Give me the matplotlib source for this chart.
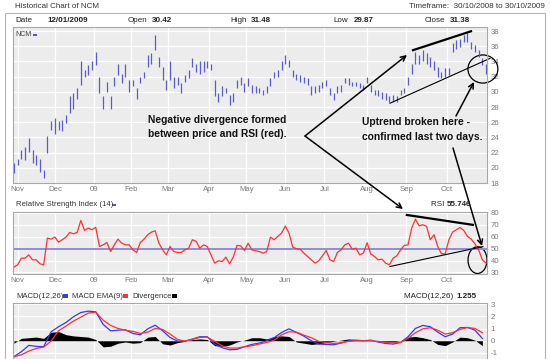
import numpy as np
import pandas as pd
import matplotlib
matplotlib.use('Agg')
import matplotlib.pyplot as plt
from matplotlib.patches import Ellipse, Rectangle, FancyArrowPatch

plt.rcParams['axes.unicode_minus'] = False

# ASX trading calendar 30/10/2008 - 30/10/2009
holidays = ['2008-12-25', '2008-12-26', '2009-01-01', '2009-01-26',
            '2009-04-10', '2009-04-13', '2009-06-08']
days = pd.bdate_range('2008-10-30', '2009-10-30', freq='C', holidays=holidays)
n = len(days)

month_labels = ['Nov', 'Dec', '09', 'Feb', 'Mar', 'Apr', 'May', 'Jun',
                'Jul', 'Aug', 'Sep', 'Oct']

# NCM daily bars, read every second trading day (low / high)
price_low = [19.3, 20.4, 21.2, 21.0, 22.1, 20.6, 20.4, 19.5, 18.6, 22.0,
             25.0, 24.5, 25.0, 24.8, 25.9, 27.2, 27.8, 29.1, 30.9, 32.0,
             32.2, 32.9, 33.5, 29.8, 27.8, 30.0, 27.8, 30.7, 32.2, 31.1,
             32.0, 30.0, 30.7, 29.1, 31.1, 31.8, 33.3, 33.7, 35.5, 33.3,
             31.6, 30.2, 31.6, 30.5, 30.9, 29.8, 31.3, 31.8, 33.3, 32.6,
             32.4, 32.6, 33.1, 32.9, 29.4, 28.7, 29.4, 29.8, 28.3, 28.7,
             30.5, 30.9, 30.0, 30.7, 29.8, 29.8, 29.8, 29.6, 29.8, 30.7,
             31.8, 32.0, 32.9, 33.7, 33.3, 32.0, 31.6, 31.3, 31.1, 30.9,
             29.6, 29.8, 30.0, 30.5, 30.7, 29.6, 28.9, 29.8, 30.0, 31.1,
             30.9, 30.7, 30.7, 30.5, 30.2, 31.1, 30.0, 29.6, 29.4, 29.1,
             28.9, 28.7, 28.7, 28.7, 29.6, 29.8, 30.9, 32.4, 33.7, 33.7,
             34.0, 33.7, 33.3, 32.9, 32.0, 31.8, 32.0, 32.2, 35.3, 35.7,
             35.9, 36.6, 36.6, 35.7, 35.3, 34.6, 33.5, 32.4]
price_high = [20.6, 21.2, 22.3, 22.8, 23.9, 22.3, 21.7, 21.2, 19.7, 24.2,
              26.1, 26.5, 26.1, 26.3, 27.0, 29.4, 29.8, 30.5, 34.0, 32.9,
              33.5, 34.0, 35.3, 32.0, 29.4, 31.3, 29.4, 32.0, 33.7, 32.4,
              33.7, 31.6, 31.6, 30.5, 32.0, 32.6, 34.8, 35.1, 37.5, 34.6,
              33.3, 31.6, 34.0, 32.0, 32.0, 31.1, 32.2, 32.9, 34.4, 33.7,
              34.0, 34.0, 34.0, 33.7, 31.6, 29.8, 30.7, 30.5, 29.6, 29.8,
              31.6, 32.0, 31.1, 31.8, 30.9, 30.7, 30.5, 30.2, 30.7, 31.8,
              32.6, 32.9, 34.0, 34.8, 34.2, 32.9, 32.4, 32.2, 32.0, 31.8,
              30.7, 30.7, 30.9, 31.3, 31.6, 30.5, 29.8, 30.7, 30.9, 31.8,
              31.8, 31.3, 31.3, 31.1, 30.9, 32.0, 30.9, 30.2, 30.2, 30.0,
              29.8, 29.4, 29.6, 29.4, 30.2, 30.5, 32.0, 33.7, 35.3, 34.8,
              35.5, 35.1, 34.6, 34.0, 33.3, 32.6, 33.1, 33.1, 36.4, 36.8,
              37.0, 37.5, 37.7, 36.6, 36.2, 35.5, 34.4, 33.7]

# RSI(14), every second trading day
rsi = [34.5, 36.4, 42.0, 42.0, 44.8, 40.6, 40.6, 37.3, 36.4, 58.9,
       58.0, 59.7, 55.5, 57.5, 59.7, 63.6, 62.5, 63.6, 73.7, 65.3,
       67.3, 65.9, 68.0, 51.8, 53.2, 55.2, 47.6, 53.2, 58.0, 54.6,
       53.2, 53.2, 49.0, 46.8, 55.2, 58.0, 61.7, 63.9, 65.0, 54.6,
       49.0, 44.8, 51.8, 47.6, 46.8, 46.8, 49.0, 50.4, 57.5, 56.1,
       50.4, 53.2, 51.8, 44.8, 37.8, 39.8, 39.2, 42.9, 37.3, 42.9,
       52.7, 52.4, 48.5, 54.6, 49.0, 48.2, 47.6, 46.2, 47.6, 59.7,
       57.5, 60.3, 63.1, 69.0, 63.0, 51.3, 49.9, 49.6, 46.2, 43.4,
       40.6, 37.8, 39.8, 44.0, 48.5, 40.6, 39.2, 46.8, 49.0, 53.2,
       54.6, 49.6, 50.4, 44.8, 46.2, 55.0, 45.4, 43.4, 40.6, 41.2,
       37.8, 36.4, 42.0, 44.0, 49.0, 52.7, 53.2, 67.3, 74.8, 69.2,
       70.1, 68.7, 57.5, 61.7, 51.8, 45.7, 45.7, 57.5, 63.9, 65.9,
       67.8, 65.3, 60.3, 58.0, 54.1, 49.0, 40.6, 37.8]

# MACD(12,26), EMA(9) and divergence, every fourth trading day
macd = [-1.31, -0.90, -0.38, -0.46, -0.49, 0.74, 1.15, 1.50, 1.97, 2.32,
        2.43, 2.38, 1.34, 0.82, 0.87, 0.90, 0.60, 0.49, 0.98, 1.28,
        0.82, 0.27, -0.03, -0.03, 0.14, 0.33, 0.33, -0.27, -0.57, -0.74,
        -0.71, -0.49, -0.30, -0.19, 0.0, 0.25, 0.68, 0.98, 0.68, 0.38,
        0.0, -0.27, -0.30, -0.33, -0.19, 0.0, 0.05, 0.0, 0.05, -0.11,
        -0.22, -0.27, -0.14, 0.33, 1.01, 1.26, 1.15, 0.71, 0.33, 0.55,
        1.07, 1.09, 0.87, 0.19]
macd_ema = [-1.31, -1.15, -0.85, -0.63, -0.52, -0.03, 0.82, 1.20, 1.61, 1.94,
            2.27, 2.35, 1.69, 1.26, 1.01, 0.87, 0.77, 0.60, 0.71, 1.01,
            0.93, 0.55, 0.11, -0.03, 0.11, 0.27, 0.30, -0.05, -0.41, -0.60,
            -0.60, -0.49, -0.41, -0.27, -0.14, 0.05, 0.49, 0.74, 0.71, 0.46,
            0.25, -0.05, -0.16, -0.22, -0.16, -0.05, 0.0, 0.0, 0.0, -0.05,
            -0.14, -0.16, -0.14, 0.19, 0.66, 0.98, 1.07, 0.87, 0.55, 0.66,
            0.93, 1.09, 1.01, 0.66]
divergence = [-0.2, 0.2, 0.25, 0.3, 0.2, 0.7, 0.75, 0.5, 0.4, 0.35,
              0.3, 0.1, -0.5, -0.45, -0.2, -0.1, -0.2, -0.15, 0.3, 0.35,
              -0.25, -0.35, -0.15, -0.05, 0.1, 0.15, 0.1, -0.4, -0.45, -0.35,
              -0.1, 0.05, 0.25, 0.25, 0.15, 0.35, 0.4, 0.35, -0.1, -0.2,
              -0.3, -0.25, -0.15, -0.05, 0.05, 0.15, 0.1, 0.02, 0.05, -0.05,
              -0.1, -0.1, 0.0, 0.3, 0.35, 0.25, 0.1, -0.3, -0.4, -0.1,
              0.3, 0.25, 0.05, -0.4]

px2 = np.arange(0, n, 2)
px4 = np.arange(0, n, 4)
month_pos = [i for i in range(1, n) if days[i].month != days[i - 1].month]

W, H = 550, 359
fig = plt.figure(figsize=(5.5, 3.59), dpi=100)
small = ['Liberation Sans', 'DejaVu Sans']
note = ['Liberation Sans', 'DejaVu Sans']


def box(l, t, r, b):
    return [l / W, 1 - b / H, (r - l) / W, (b - t) / H]


def fp(x, y):
    return (x / W, 1 - y / H)


def style(ax, xlabels=True):
    ax.set_facecolor('#ececec')
    for s in ax.spines.values():
        s.set_color('#a8a8a8')
        s.set_linewidth(0.8)
    ax.yaxis.tick_right()
    ax.set_xlim(-0.5, n - 0.5)
    ax.set_xticks(month_pos)
    ax.set_xticklabels(month_labels if xlabels else [])
    ax.tick_params(length=0, labelsize=5.6, labelcolor='#7a7a7a', pad=2.5)
    for t in ax.get_xticklabels() + ax.get_yticklabels():
        t.set_family(small)
    ax.grid(color='white', lw=0.9)
    ax.set_axisbelow(True)


# outer frame
fig.add_artist(Rectangle(fp(5, 380), 540 / W, 367 / H, transform=fig.transFigure,
                         fill=False, ec='#b4b4b4', lw=0.8))

# price panel
ax1 = fig.add_axes(box(13, 27, 487, 183))
style(ax1)
ax1.vlines(px2, price_low, price_high, color='#5a5ad2', lw=0.9)
ax1.set_ylim(18, 38.53)
ax1.set_yticks(range(18, 39, 2))

# RSI panel
ax2 = fig.add_axes(box(13, 212, 487, 274))
style(ax2)
ax2.axhline(50, color='#8c8ce6', lw=1.4)
ax2.plot(px2, rsi, color='#ff3030', lw=0.9)
ax2.set_ylim(28.7, 80.8)
ax2.set_yticks(range(30, 81, 10))

# MACD panel (runs off the bottom of the picture)
ax3 = fig.add_axes(box(13, 303, 487, 370))
style(ax3, xlabels=False)
ax3.fill_between(px4, 0, divergence, color='black', lw=0)
ax3.plot(px4, macd, color='#3535ff', lw=0.9)
ax3.plot(px4, macd_ema, color='#ff3030', lw=0.9)
ax3.set_ylim(-2.4, 3.1)
ax3.set_yticks([-1, 0, 1, 2, 3])

# header texts
fig.text(*fp(15, 6), 'Historical Chart of NCM', fontsize=5.8, family=small,
         color='#333333', va='center')
fig.text(*fp(545, 6), 'Timeframe:  30/10/2008 to 30/10/2009', fontsize=5.8,
         family=small, color='#333333', va='center', ha='right')
for x, s, w in [(15, 'Date', 'normal'), (47, '12/01/2009', 'bold'),
                (128, 'Open', 'normal'), (152, '30.42', 'bold'),
                (230, 'High', 'normal'), (251, '31.48', 'bold'),
                (333, 'Low', 'normal'), (354, '29.87', 'bold'),
                (425, 'Close', 'normal'), (450, '31.38', 'bold')]:
    fig.text(*fp(x, 20.5), s, fontsize=5.8, family=small, weight=w,
             color='#222222', va='center')

fig.text(*fp(15, 35), 'NCM', fontsize=5, family=small, color='#444444', va='center')
fig.add_artist(Rectangle(fp(33, 36), 4 / W, 2 / H, transform=fig.transFigure,
                         color='#5555cc', lw=0))

fig.text(*fp(16, 205), 'Relative Strength Index (14)', fontsize=5.6, family=small,
         color='#333333', va='center')
fig.add_artist(Rectangle(fp(112, 206), 4 / W, 2 / H, transform=fig.transFigure,
                         color='#5555cc', lw=0))
fig.text(*fp(447, 205), 'RSI ', fontsize=5.8, family=small, color='#222222',
         va='center', ha='right')
fig.text(*fp(447, 205), '55.746', fontsize=5.8, family=small, weight='bold',
         color='#222222', va='center')

legend_items = [(16, 'MACD(12,26)', 63, '#3535ff'), (72, 'MACD EMA(9)', 123, '#ff3030'),
                (132, 'Divergence', 172, 'black')]
for x, s, sx, c in legend_items:
    fig.text(*fp(x, 296), s, fontsize=5.6, family=small, color='#333333', va='center')
    fig.add_artist(Rectangle(fp(sx, 298), 5 / W, 4 / H, transform=fig.transFigure,
                             color=c, lw=0))
fig.text(*fp(456, 296), 'MACD(12,26) ', fontsize=5.8, family=small, color='#222222',
         va='center', ha='right')
fig.text(*fp(456, 296), '1.255', fontsize=5.8, family=small, weight='bold',
         color='#222222', va='center')

# annotations: trend lines and circles
ax1.plot([214.7, 245.9], [35.48, 37.97], color='k', lw=1.6, clip_on=False)
ax1.plot([202.3, 256.1], [28.5, 34.4], color='k', lw=0.8, clip_on=False)
ax1.add_patch(Ellipse((252.3, 33.0), 16.1, 3.7, fill=False, ec='k', lw=0.9,
                      clip_on=False))
ax2.plot([211.4, 246.9], [78.3, 70.0], color='k', lw=1.6, clip_on=False)
ax2.plot([202.3, 252.3], [35.0, 51.7], color='k', lw=0.8, clip_on=False)
ax2.add_patch(Ellipse((249.4, 40.4), 10.2, 22.5, fill=False, ec='k', lw=0.9,
                      clip_on=False))

for a, b in [((305, 136), (407, 55)), ((305, 136), (403, 209)),
             ((456, 116), (474, 82)), ((453, 148), (482, 246))]:
    fig.add_artist(FancyArrowPatch(fp(*a), fp(*b), transform=fig.transFigure,
                                   arrowstyle='->', mutation_scale=9, lw=1.1,
                                   color='k', shrinkA=0, shrinkB=0))

for x, y, s in [(148, 120, 'Negative divergence formed'),
                (148, 134, 'between price and RSI (red).'),
                (362, 122, 'Uptrend broken here -'),
                (362, 137, 'confirmed last two days.')]:
    fig.text(*fp(x, y), s, fontsize=7.4, family=note, weight='bold',
             va='center', color='#111111')

fig.savefig('out.png', dpi=100)
